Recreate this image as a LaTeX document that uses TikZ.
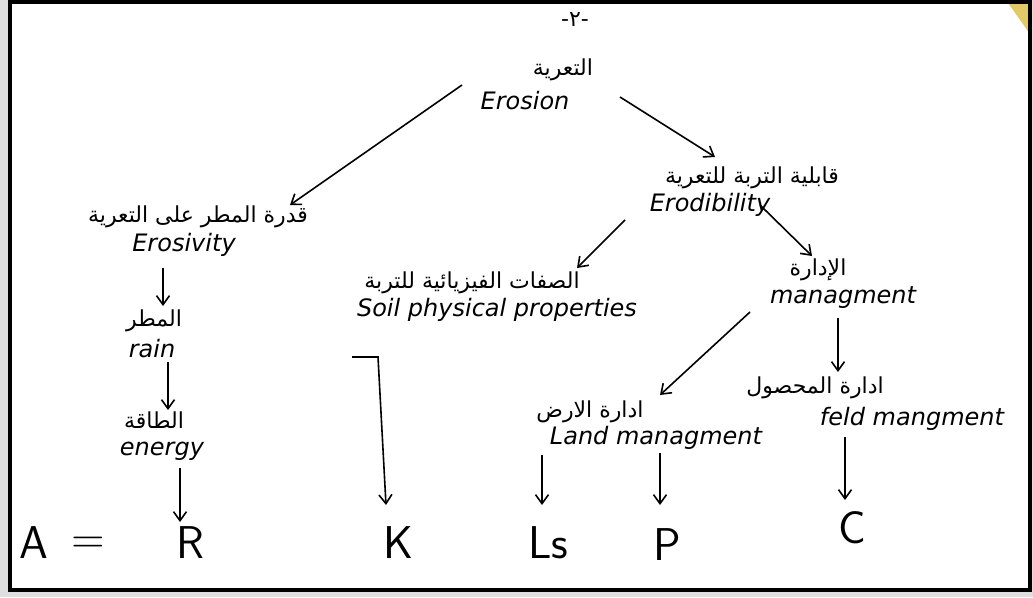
\documentclass[tikz,border=0pt]{standalone}
\usepackage{fontspec}
\newfontfamily\arabicfont[Script=Arabic]{DejaVu Sans}
\newfontfamily\handfont{DejaVu Sans}
\TeXXeTstate=1
\usepackage{tikz}
\usetikzlibrary{arrows.meta,positioning}
\tikzstyle{ar} = [font=\arabicfont\fontsize{22}{26}\selectfont, inner sep=1pt]
\tikzstyle{en} = [font=\handfont\itshape\fontsize{24}{28}\selectfont, inner sep=1pt]
\tikzstyle{term} = [font=\sffamily\fontsize{46}{50}\selectfont, inner sep=1pt]
\tikzstyle{connector} = [-{Straight Barb[length=9pt,width=13pt]}, line width=1.6pt]

\begin{document}
\begin{tikzpicture}[x=1pt, y=-1pt]
		\useasboundingbox (0,0) rectangle (1033,597);
		\fill[gray!25] (0,0) rectangle (1033,597);
		\fill[white] (10,3) rectangle (1030,590);
		\fill[brown!60!yellow!70] (1008,3) -- (1030,3) -- (1030,34) -- cycle;
		\draw[line width=4.5pt] (10,2) rectangle (1030,590);

		% page number and root
		\node[ar] (page) at (575,20) {\beginR -٢-\endR};
		\node[ar] (erosion-ar) at (563,70) {\beginR التعرية\endR};
		\node[en] (erosion) at (525,101) {Erosion};

		% rain side
		\node[ar] (erosivity-ar) at (198,217) {\beginR قدرة المطر على التعرية\endR};
		\node[en] (erosivity) at (184,245) {Erosivity};
		\node[ar] (rain-ar) at (154,321) {\beginR المطر\endR};
		\node[en] (rain) at (152,349) {rain};
		\node[ar] (energy-ar) at (154,420) {\beginR الطاقة\endR};
		\node[en] (energy) at (162,451) {energy};

		% soil side
		\node[ar] (erodibility-ar) at (752,178) {\beginR قابلية التربة للتعرية\endR};
		\node[en] (erodibility) at (710,205) {Erodibility};
		\node[ar] (soil-ar) at (472,283) {\beginR الصفات الفيزيائية للتربة\endR};
		\node[en] (soil) at (497,310) {Soil physical properties};
		\node[ar] (manage-ar) at (818,270) {\beginR الإدارة\endR};
		\node[en] (manage) at (843,298) {managment};
		\node[ar] (land-ar) at (590,412) {\beginR ادارة الارض\endR};
		\node[en] (land) at (656,438) {Land managment};
		\node[ar] (field-ar) at (815,388) {\beginR ادارة المحصول\endR};
		\node[en] (field) at (912,419) {feld mangment};

		% equation
		\node[term] (A) at (34,543) {A};
		\node[term] (eq) at (88,545) {=};
		\node[term] (R) at (190,543) {R};
		\node[term] (K) at (398,543) {K};
		\node[term] (LS) at (548,543) {Ls};
		\node[term] (P) at (667,545) {P};
		\node[term] (C) at (852,528) {C};
		\coordinate (kstart) at (352,357);

		\draw[connector] ([xshift=-63pt,yshift=16pt]erosion.center) to ([xshift=92pt,yshift=12pt]erosivity-ar.center);
		\draw[connector] ([xshift=57pt,yshift=-27pt]erosion-ar.center) to ([xshift=-37pt,yshift=21pt]erodibility-ar.center);
		\draw[connector] ([xshift=-85pt,yshift=-15pt]erodibility.center) to ([xshift=105pt,yshift=15pt]soil-ar.center);
		\draw[connector] ([xshift=50pt,yshift=0pt]erodibility.center) to ([xshift=-6pt,yshift=14pt]manage-ar.center);
		\draw[connector] ([xshift=-93pt,yshift=-14pt]manage.center) to ([xshift=70pt,yshift=17pt]land-ar.center);
		\draw[connector] ([xshift=-5pt,yshift=-20pt]manage.center) to ([xshift=23pt,yshift=16pt]field-ar.center);
		\draw[connector] ([xshift=-21pt,yshift=-23pt]erosivity.center) to ([xshift=9pt,yshift=15pt]rain-ar.center);
		\draw[connector] ([xshift=16pt,yshift=-13pt]rain.center) to ([xshift=14pt,yshift=10pt]energy-ar.center);
		\draw[connector] ([xshift=18pt,yshift=-17pt]energy.center) to ([xshift=-10pt,yshift=21pt]R.center);
		\draw[connector] (kstart) -- ++(26,0) -- ([xshift=-12pt,yshift=38pt]K.center);
		\draw[connector] ([xshift=-114pt,yshift=-17pt]land.center) to ([xshift=-6pt,yshift=38pt]LS.center);
		\draw[connector] ([xshift=4pt,yshift=-15pt]land.center) to ([xshift=-7pt,yshift=40pt]P.center);
		\draw[connector] ([xshift=-67pt,yshift=-18pt]field.center) to ([xshift=-7pt,yshift=28pt]C.center);
	\end{tikzpicture}
\end{document}
